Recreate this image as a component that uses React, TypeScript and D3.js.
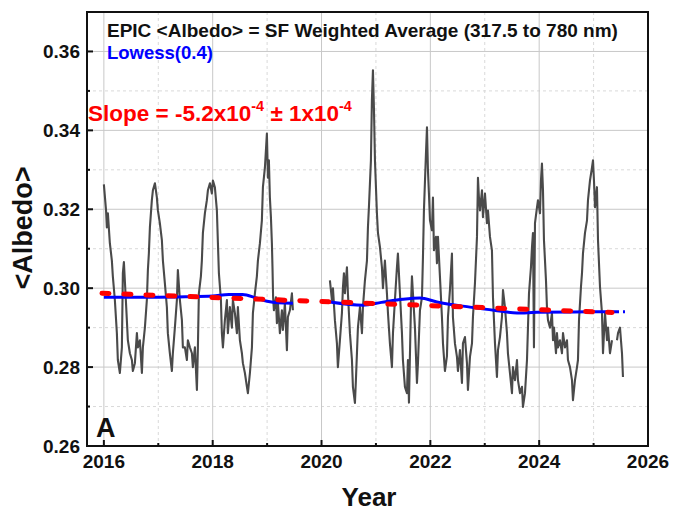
import React from "react";
import * as d3 from "d3";

// EPIC daily <Albedo> (SF weighted average, 317.5–780 nm); null marks a data gap
const epicYear: number[] = [
  2016.00, 2016.04, 2016.055, 2016.074, 2016.11, 2016.147, 2016.165, 2016.202, 2016.239, 2016.257,
  2016.294, 2016.331, 2016.349, 2016.368, 2016.404, 2016.441, 2016.478, 2016.515, 2016.533, 2016.57,
  2016.607, 2016.625, 2016.662, 2016.699, 2016.717, 2016.754, 2016.79, 2016.809, 2016.827, 2016.846,
  2016.882, 2016.901, 2016.938, 2016.974, 2016.993, 2017.029, 2017.066, 2017.085, 2017.121, 2017.158,
  2017.176, 2017.213, 2017.25, 2017.268, 2017.305, 2017.342, 2017.36, 2017.397, 2017.434, 2017.452,
  2017.489, 2017.526, 2017.544, 2017.581, 2017.618, 2017.636, 2017.673, 2017.71, 2017.728, 2017.746,
  2017.783, 2017.801, 2017.82, 2017.857, 2017.893, 2017.912, 2017.949, 2017.985, 2018.004, 2018.04,
  2018.077, 2018.096, 2018.114, 2018.151, 2018.169, 2018.188, 2018.224, 2018.261, 2018.279, 2018.316,
  2018.353, 2018.371, 2018.408, 2018.445, 2018.463, 2018.5, 2018.537, 2018.555, 2018.592, 2018.629,
  2018.647, 2018.684, 2018.721, 2018.739, 2018.776, 2018.812, 2018.831, 2018.868, 2018.904, 2018.923,
  2018.96, 2018.996, 2019.015, 2019.033, 2019.051, 2019.07, 2019.088, 2019.10, 2019.11, 2019.125,
  2019.162, 2019.18, 2019.199, 2019.235, 2019.272, 2019.29, 2019.327, 2019.364, 2019.382, 2019.419,
  2019.456, 2019.474,
  2019.8,
  2020.154, 2020.191, 2020.21, 2020.246, 2020.283, 2020.301, 2020.338, 2020.375, 2020.393, 2020.412,
  2020.43, 2020.467, 2020.485, 2020.522, 2020.559, 2020.577, 2020.614, 2020.632, 2020.651, 2020.669,
  2020.706, 2020.743, 2020.761, 2020.798, 2020.835, 2020.853, 2020.871, 2020.908, 2020.926, 2020.945,
  2020.963, 2020.982, 2021.018, 2021.037, 2021.074, 2021.11, 2021.129, 2021.165, 2021.202, 2021.221,
  2021.257, 2021.294, 2021.313, 2021.349, 2021.386, 2021.404, 2021.441, 2021.478, 2021.496, 2021.533,
  2021.57, 2021.588, 2021.607, 2021.643, 2021.662, 2021.68, 2021.717, 2021.754, 2021.772, 2021.809,
  2021.846, 2021.864, 2021.882, 2021.919, 2021.938, 2021.956, 2021.974, 2021.993, 2022.029, 2022.048,
  2022.066, 2022.103, 2022.121, 2022.14, 2022.176, 2022.213, 2022.232, 2022.268, 2022.305, 2022.324,
  2022.36, 2022.397, 2022.415, 2022.452, 2022.489, 2022.507, 2022.544, 2022.581, 2022.599, 2022.636,
  2022.673, 2022.691, 2022.728, 2022.765, 2022.783, 2022.82, 2022.857, 2022.875, 2022.893, 2022.912,
  2022.949, 2022.967, 2023.004, 2023.04, 2023.059, 2023.096, 2023.132, 2023.151, 2023.188, 2023.224,
  2023.243, 2023.279, 2023.316, 2023.335, 2023.371, 2023.408, 2023.426, 2023.463, 2023.5, 2023.518,
  2023.555, 2023.592, 2023.61, 2023.647, 2023.684, 2023.702, 2023.739, 2023.776, 2023.794, 2023.813,
  2023.849, 2023.868, 2023.886, 2023.904, 2023.923, 2023.96, 2023.978, 2024.015, 2024.033, 2024.051,
  2024.07, 2024.088, 2024.125, 2024.143, 2024.162, 2024.199, 2024.235, 2024.254, 2024.272, 2024.309,
  2024.327, 2024.346, 2024.382, 2024.419, 2024.438, 2024.474, 2024.511, 2024.529, 2024.566, 2024.603,
  2024.621, 2024.658, 2024.695, 2024.713, 2024.732, 2024.768, 2024.787, 2024.805, 2024.842, 2024.879,
  2024.897, 2024.934, 2024.971, 2024.989, 2025.007, 2025.026, 2025.062, 2025.081, 2025.118, 2025.154,
  2025.173, 2025.21, 2025.246, 2025.265, 2025.301, 2025.338,
  2025.39,
  2025.43, 2025.449, 2025.485, 2025.522, 2025.54,
];

const epicAlbedo: (number | null)[] = [
  0.3263, 0.3197, 0.3154, 0.319, 0.3114, 0.307, 0.303, 0.297, 0.2886, 0.2818,
  0.2785, 0.285, 0.3038, 0.3066, 0.297, 0.2868, 0.2835, 0.2818, 0.279, 0.281,
  0.2886, 0.285, 0.2868, 0.2785, 0.285, 0.29, 0.297, 0.3046, 0.3088, 0.3154,
  0.3223, 0.3248, 0.3266, 0.323, 0.3197, 0.3165, 0.3122, 0.307, 0.3013, 0.2952,
  0.2886, 0.2835, 0.279, 0.2835, 0.29, 0.297, 0.3046, 0.297, 0.2919, 0.285,
  0.285, 0.2818, 0.2868, 0.285, 0.2835, 0.28, 0.285, 0.2742, 0.285, 0.2987,
  0.303, 0.307, 0.314, 0.319, 0.3223, 0.3248, 0.3266, 0.324, 0.3273, 0.3256,
  0.3197, 0.3114, 0.3038, 0.297, 0.2886, 0.285, 0.2919, 0.297, 0.2886, 0.2952,
  0.29, 0.297, 0.2937, 0.2886, 0.2952, 0.2868, 0.2835, 0.281, 0.2785, 0.275,
  0.2734, 0.2785, 0.285, 0.2937, 0.2987, 0.303, 0.307, 0.3114, 0.3172, 0.3256,
  0.3306, 0.3392, 0.328, 0.3324, 0.323, 0.318, 0.3114, 0.3046, 0.2977, 0.2944,
  0.2977, 0.2911, 0.2962, 0.2886, 0.2944, 0.2894, 0.2962, 0.2843, 0.2927, 0.2944,
  0.2987, 0.2944,
  null,
  0.302, 0.297, 0.3, 0.2919, 0.286, 0.28, 0.2868, 0.2937, 0.3, 0.3038,
  0.2987, 0.3053, 0.2987, 0.2886, 0.2818, 0.275, 0.2709, 0.2767, 0.2835, 0.29,
  0.2952, 0.2886, 0.2952, 0.302, 0.307, 0.3154, 0.3205, 0.3324, 0.3476, 0.3552,
  0.3458, 0.3324, 0.319, 0.314, 0.3104, 0.3053, 0.3, 0.307, 0.2987, 0.2937,
  0.286, 0.28, 0.2886, 0.297, 0.3053, 0.3088, 0.2987, 0.2886, 0.2818, 0.275,
  0.2734, 0.2818, 0.271, 0.2952, 0.303, 0.2987, 0.29, 0.276, 0.281, 0.2944,
  0.2977, 0.3078, 0.3197, 0.334, 0.3408, 0.3299, 0.324, 0.3172, 0.3147, 0.323,
  0.3096, 0.313, 0.3063, 0.313, 0.303, 0.2927, 0.286, 0.279, 0.2828, 0.2927,
  0.2995, 0.3088, 0.2927, 0.286, 0.2826, 0.279, 0.2843, 0.276, 0.286, 0.2876,
  0.281, 0.2742, 0.2826, 0.286, 0.2927, 0.3013, 0.313, 0.328, 0.323, 0.3197,
  0.3248, 0.318, 0.324, 0.3165, 0.3197, 0.313, 0.3096, 0.2977, 0.286, 0.2775,
  0.2843, 0.2876, 0.2927, 0.2995, 0.2952, 0.2886, 0.2835, 0.2785, 0.2734, 0.28,
  0.2767, 0.2818, 0.2767, 0.2734, 0.275, 0.2699, 0.2734, 0.2818, 0.29, 0.2987,
  0.3053, 0.3104, 0.314, 0.285, 0.3165, 0.3205, 0.3223, 0.319, 0.3273, 0.3316,
  0.3248, 0.3122, 0.302, 0.2952, 0.2919, 0.29, 0.2937, 0.2868, 0.29, 0.2835,
  0.2886, 0.285, 0.2868, 0.2835, 0.2886, 0.285, 0.2868, 0.2818, 0.28, 0.2767,
  0.2716, 0.2767, 0.28, 0.2818, 0.2919, 0.3003, 0.3038, 0.3088, 0.314, 0.3172,
  0.3223, 0.3273, 0.3306, 0.3324, 0.3273, 0.3205, 0.3256, 0.3122, 0.3003, 0.2937,
  0.2835, 0.2937, 0.2868, 0.29, 0.2835, 0.2868,
  null,
  0.2868, 0.2886, 0.29, 0.2835, 0.2775,
];

// Lowess(0.4) smooth, one run per data segment
const lowessYear1: number[] = [2016.0, 2016.5, 2017.0, 2017.5, 2018.0, 2018.3, 2018.55, 2018.8, 2019.0, 2019.2, 2019.474];
const lowessValue1: number[] = [0.2977, 0.2977, 0.2977, 0.2978, 0.2980, 0.2984, 0.2984, 0.2975, 0.2967, 0.2963, 0.2962];
const lowessYear2: number[] = [2020.154, 2020.761, 2021.1, 2021.496, 2021.809, 2022.121, 2022.728, 2023.224, 2023.592, 2023.96, 2024.879, 2025.357];
const lowessValue2: number[] = [0.2965, 0.2957, 0.2964, 0.2972, 0.2975, 0.2965, 0.2952, 0.2943, 0.2937, 0.2939, 0.2940, 0.2940];
const lowessTailYear: number[] = [2025.357, 2025.577];
const lowessTailValue: number[] = [0.2940, 0.2940];

// Linear fit: slope per year and value at start of 2016
const fitSlope = -5.2e-4;
const fitIntercept2016 = 0.2987;
const fitRange: number[] = [2015.965, 2025.34];

const xMajorTicks: number[] = [2016, 2018, 2020, 2022, 2024, 2026];
const xMinorTicks: number[] = [2017, 2019, 2021, 2023, 2025];
const yMajorTicks: number[] = [0.26, 0.28, 0.3, 0.32, 0.34, 0.36];
const yMinorTicks: number[] = [0.27, 0.29, 0.31, 0.33, 0.35];

const W = 675;
const H = 511;
const plot = { left: 87, right: 648, top: 12, bottom: 446 };
const FONT = "'Liberation Sans', Arial, Helvetica, sans-serif";

export default function App() {
  const x = d3.scaleLinear().domain([2015.69, 2026]).range([plot.left, plot.right]);
  const y = d3.scaleLinear().domain([0.26, 0.37]).range([plot.bottom, plot.top]);

  const pts: [number, number | null][] = epicYear.map((t, i) => [t, epicAlbedo[i]]);
  const dataLine = d3
    .line<[number, number | null]>()
    .defined((d) => d[1] !== null)
    .x((d) => x(d[0]))
    .y((d) => y(d[1] as number));

  const smooth = d3
    .line<[number, number]>()
    .curve(d3.curveMonotoneX)
    .x((d) => x(d[0]))
    .y((d) => y(d[1]));
  const zip = (a: number[], b: number[]) => a.map((v, i) => [v, b[i]] as [number, number]);

  const fitPts: [number, number][] = fitRange.map((t) => [t, fitIntercept2016 + fitSlope * (t - 2016)]);

  return (
    <svg width={W} height={H} style={{ position: "absolute", left: 0, top: 0, background: "#fff" }} fontFamily={FONT}>
      <defs>
        <clipPath id="plotClip">
          <rect x={plot.left} y={plot.top} width={plot.right - plot.left} height={plot.bottom - plot.top} />
        </clipPath>
      </defs>

      {/* grid */}
      {xMinorTicks.map((t) => (
        <line key={"xm" + t} x1={x(t)} x2={x(t)} y1={plot.top} y2={plot.bottom} stroke="#d9d9d9" strokeDasharray="3,3" />
      ))}
      {yMinorTicks.map((v) => (
        <line key={"ym" + v} x1={plot.left} x2={plot.right} y1={y(v)} y2={y(v)} stroke="#d9d9d9" strokeDasharray="3,3" />
      ))}
      {xMajorTicks.map((t) => (
        <line key={"xg" + t} x1={x(t)} x2={x(t)} y1={plot.top} y2={plot.bottom} stroke="#c8c8c8" />
      ))}
      {yMajorTicks.map((v) => (
        <line key={"yg" + v} x1={plot.left} x2={plot.right} y1={y(v)} y2={y(v)} stroke="#c8c8c8" />
      ))}

      <g clipPath="url(#plotClip)">
        <path d={dataLine(pts) || ""} fill="none" stroke="#4a4a4a" strokeWidth={2.1} strokeLinejoin="round" />
        <path d={smooth(zip(lowessYear1, lowessValue1)) || ""} fill="none" stroke="#0000ff" strokeWidth={3} />
        <path d={smooth(zip(lowessYear2, lowessValue2)) || ""} fill="none" stroke="#0000ff" strokeWidth={3} />
        <path d={smooth(zip(lowessTailYear, lowessTailValue)) || ""} fill="none" stroke="#0000ff" strokeWidth={3} strokeDasharray="6,4" />
        <path d={smooth(fitPts) || ""} fill="none" stroke="#ff0000" strokeWidth={5} strokeDasharray="7,15" strokeLinecap="round" />
      </g>

      {/* frame */}
      <rect x={plot.left} y={plot.top} width={plot.right - plot.left} height={plot.bottom - plot.top} fill="none" stroke="#111" strokeWidth={2} />

      {/* ticks */}
      {xMajorTicks.map((t) => (
        <line key={"xt" + t} x1={x(t)} x2={x(t)} y1={plot.bottom} y2={plot.bottom - 6} stroke="#111" strokeWidth={2} />
      ))}
      {xMinorTicks.map((t) => (
        <line key={"xmt" + t} x1={x(t)} x2={x(t)} y1={plot.bottom} y2={plot.bottom - 3} stroke="#111" strokeWidth={2} />
      ))}
      {yMajorTicks.map((v) => (
        <line key={"yt" + v} x1={plot.left} x2={plot.left + 6} y1={y(v)} y2={y(v)} stroke="#111" strokeWidth={2} />
      ))}
      {yMinorTicks.map((v) => (
        <line key={"ymt" + v} x1={plot.left} x2={plot.left + 3} y1={y(v)} y2={y(v)} stroke="#111" strokeWidth={2} />
      ))}

      {/* tick labels */}
      {xMajorTicks.map((t) => (
        <text key={"xl" + t} x={x(t)} y={468} textAnchor="middle" fontSize={19} fontWeight="bold" fill="#111">
          {t}
        </text>
      ))}
      {yMajorTicks.map((v) => (
        <text key={"yl" + v} x={80} y={y(v) + 7} textAnchor="end" fontSize={19} fontWeight="bold" fill="#111">
          {d3.format(".2f")(v)}
        </text>
      ))}

      {/* axis titles */}
      <text x={369} y={506} textAnchor="middle" fontSize={26} fontWeight="bold" fill="#111">
        Year
      </text>
      <text transform="translate(32,228) rotate(-90)" textAnchor="middle" fontSize={27} fontWeight="bold" fill="#111">
        {"<Albedo>"}
      </text>

      {/* annotations */}
      <text x={107} y={37} fontSize={19} fontWeight="bold" fill="#111">
        {"EPIC <Albedo> = SF Weighted Average (317.5 to 780 nm)"}
      </text>
      <text x={107} y={59} fontSize={18.5} fontWeight="bold" fill="#0000ff">
        Lowess(0.4)
      </text>
      <text x={88} y={121} fontSize={22.5} fontWeight="bold" fill="#ff0000">
        {"Slope = -5.2x10"}
        <tspan fontSize={14.5} dy={-10}>-4</tspan>
        <tspan dy={10}>{" \u00b1 1x10"}</tspan>
        <tspan fontSize={14.5} dy={-10}>-4</tspan>
      </text>
      <text x={96} y={437} fontSize={27} fontWeight="bold" fill="#111">
        A
      </text>
    </svg>
  );
}
